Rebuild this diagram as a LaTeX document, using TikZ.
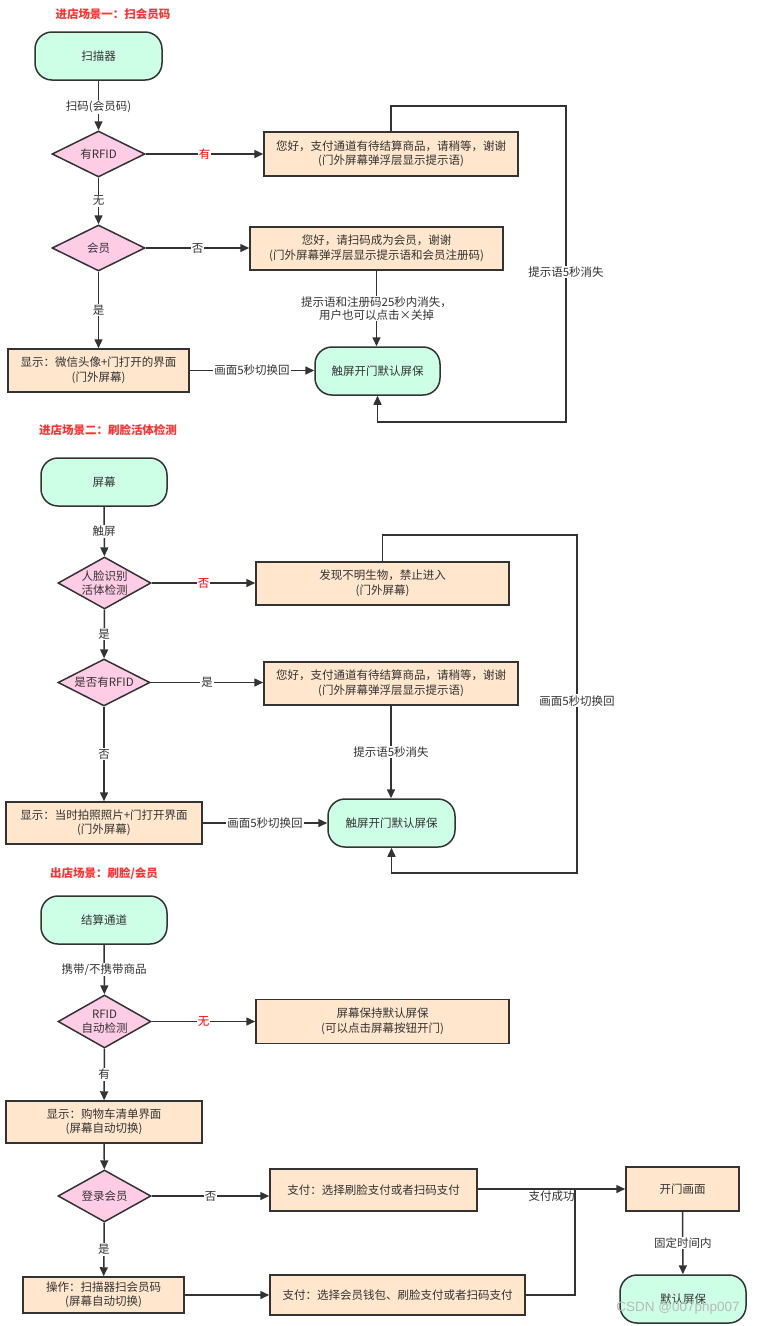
\documentclass[tikz,border=0pt]{standalone}
\usepackage{fontspec}
\setmainfont{Noto Sans CJK SC}
\newfontfamily\wmfont{Liberation Sans}
\usetikzlibrary{arrows.meta,shapes.geometric}
\definecolor{ln}{HTML}{333333}
\definecolor{termc}{HTML}{CCFFE6}
\definecolor{diac}{HTML}{FFCCE6}
\definecolor{boxc}{HTML}{FFE6CC}
\definecolor{ttlc}{HTML}{FF3333}
\begin{document}
\begin{tikzpicture}[x=1pt,y=-1pt,
 every node/.style={font=\fontsize{11.5}{14.5}\selectfont, text=ln, align=center},
 termbox/.style={draw=ln, line width=1.5pt, fill=termc, rounded corners=17pt, minimum height=48pt, inner sep=0pt},
 procbox/.style={draw=ln, line width=1.5pt, fill=boxc, inner sep=0pt},
 diam/.style={draw=ln, line width=1.5pt, fill=diac, diamond, inner sep=0pt},
 arr/.style={draw=ln, line width=1.5pt, -{Triangle[length=9pt,width=8pt]}},
 plain/.style={draw=ln, line width=1.5pt},
 lbl/.style={fill=white, inner sep=1pt},
 rlbl/.style={fill=white, inner sep=1pt, text=red},
 ttl/.style={text=ttlc, font=\fontsize{11.5}{14}\selectfont\bfseries}
]
\useasboundingbox (0,0) rectangle (759,1326);

% ---------------- Scene 1 ----------------
\node[ttl] (t1) at (113,14) {进店场景一：扫会员码};
\node[termbox, minimum width=127pt] (s1) at (98.5,56) {扫描器};
\node[diam, minimum width=93pt, minimum height=46pt] (d1) at (98.5,154) {};
\node (d1t) at (d1) {有RFID};
\node[procbox, minimum width=254pt, minimum height=44pt] (b1) at (391,154) {您好，支付通道有待结算商品，请稍等，谢谢\\(门外屏幕弹浮层显示提示语)};
\node[diam, minimum width=93pt, minimum height=46pt] (d2) at (98.5,248) {};
\node (d2t) at (d2) {会员};
\node[procbox, minimum width=253pt, minimum height=43pt] (b2) at (376.5,248.5) {您好，请扫码成为会员，谢谢\\(门外屏幕弹浮层显示提示语和会员注册码)};
\node[procbox, minimum width=181pt, minimum height=43pt] (b3) at (98.5,370.5) {显示：微信头像+门打开的界面\\(门外屏幕)};
\node[termbox, minimum width=125pt] (e1) at (377.5,371) {触屏开门默认屏保};

\draw[arr] (s1) -- node[lbl, pos=0.53] (l1) {扫码(会员码)} (d1);
\draw[arr] (d1) -- node[rlbl] (l2) {有} (d1.east -| b1.west);
\draw[arr] (d1) -- node[lbl] (l3) {无} (d2);
\draw[arr] (d2) -- node[lbl] (l4) {否} (d2.east -| b2.west);
\draw[arr] (d2) -- node[lbl] (l5) {是} (b3);
\draw[arr] (b3) -- node[lbl] (l6) {画面5秒切换回} (b3.east -| e1.west);
\draw[arr] (b2.south) -- node[lbl, inner sep=0.5pt, font=\fontsize{11.5}{13.5}\selectfont] (l7) {提示语和注册码25秒内消失，\\用户也可以点击×关掉} (b2.south |- e1.north);
\coordinate (c1a) at (b1.north |- 0,106);
\coordinate (c1b) at (566,106);
\coordinate (c1c) at (566,422);
\coordinate (c1d) at (e1.south |- 0,422);
\draw[arr] (b1.north) -- (c1a) -- (c1b) -- node[lbl, pos=0.525] (l8) {提示语5秒消失} (c1c) -- (c1d) -- (e1.south);

% ---------------- Scene 2 ----------------
\node[ttl] (t2) at (108,430) {进店场景二：刷脸活体检测};
\node[termbox, minimum width=126pt] (s2) at (104,482) {屏幕};
\node[diam, minimum width=93pt, minimum height=52pt] (d3) at (104.5,583) {};
\node (d3t) at (d3) {人脸识别\\活体检测};
\node[procbox, minimum width=253pt, minimum height=43pt] (b4) at (382.5,583.5) {发现不明生物，禁止进入\\(门外屏幕)};
\node[diam, minimum width=92pt, minimum height=47pt] (d4) at (104,682.5) {};
\node (d4t) at (d4) {是否有RFID};
\node[procbox, minimum width=254pt, minimum height=43pt] (b5) at (391,683.5) {您好，支付通道有待结算商品，请稍等，谢谢\\(门外屏幕弹浮层显示提示语)};
\node[procbox, minimum width=196pt, minimum height=42pt] (b6) at (104,823) {显示：当时拍照照片+门打开界面\\(门外屏幕)};
\node[termbox, minimum width=127pt] (e2) at (391.5,823) {触屏开门默认屏保};

\draw[arr] (s2) -- node[lbl] (l9) {触屏} (d3);
\draw[arr] (d3) -- node[rlbl] (l10) {否} (d3.east -| b4.west);
\draw[arr] (d3) -- node[lbl] (l11) {是} (d4);
\draw[arr] (d4) -- node[lbl] (l12) {是} (d4.east -| b5.west);
\draw[arr] (d4) -- node[lbl] (l13) {否} (b6);
\draw[arr] (b6) -- node[lbl] (l14) {画面5秒切换回} (b6.east -| e2.west);
\draw[arr] (b5.south) -- node[lbl] (l15) {提示语5秒消失} (b5.south |- e2.north);
\coordinate (c2a) at (b4.north |- 0,535);
\coordinate (c2b) at (577,535);
\coordinate (c2c) at (577,873);
\coordinate (c2d) at (e2.south |- 0,873);
\draw[arr] (b4.north) -- (c2a) -- (c2b) -- node[lbl, pos=0.49] (l16) {画面5秒切换回} (c2c) -- (c2d) -- (e2.south);

% ---------------- Scene 3 ----------------
\node[ttl] (t3) at (104,874) {出店场景：刷脸/会员};
\node[termbox, minimum width=126pt] (s3) at (104,920) {结算通道};
\node[diam, minimum width=93pt, minimum height=53pt] (d5) at (104.5,1021.5) {};
\node (d5t) at (d5) {RFID\\自动检测};
\node[procbox, minimum width=253pt, minimum height=44pt] (b7) at (382.5,1021.5) {屏幕保持默认屏保\\(可以点击屏幕按钮开门)};
\node[procbox, minimum width=196pt, minimum height=42pt] (b8) at (104,1122) {显示：购物车清单界面\\(屏幕自动切换)};
\node[diam, minimum width=93pt, minimum height=52pt] (d6) at (104.5,1196) {};
\node (d6t) at (d6) {登录会员};
\node[procbox, minimum width=207pt, minimum height=42pt] (b9) at (373.5,1190) {支付：选择刷脸支付或者扫码支付};
\node[procbox, minimum width=161pt, minimum height=36pt] (b10) at (103.5,1295) {操作：扫描器扫会员码\\(屏幕自动切换)};
\node[procbox, minimum width=255pt, minimum height=40pt] (b11) at (397.5,1295) {支付：选择会员钱包、刷脸支付或者扫码支付};
\node[procbox, minimum width=113pt, minimum height=44pt] (b12) at (682.5,1189) {开门画面};
\node[termbox, minimum width=126pt] (e3) at (683,1299) {默认屏保};

\draw[arr] (s3) -- node[lbl] (l17) {携带/不携带商品} (d5);
\draw[arr] (d5) -- node[rlbl] (l18) {无} (d5.east -| b7.west);
\draw[arr] (d5) -- node[lbl] (l19) {有} (b8);
\draw[arr] (b8) -- (d6);
\draw[arr] (d6) -- node[lbl] (l20) {否} (d6.east -| b9.west);
\draw[arr] (d6) -- node[lbl] (l21) {是} (b10);
\draw[arr] (b10) -- (b11);
\draw[arr] (b9.east |- b12.west) -- node[lbl, yshift=-7pt] (l22) {支付成功} (b12.west);
\coordinate (c3a) at (575,1295);
\coordinate (c3b) at (575,1189);
\draw[plain] (b11.east) -- (c3a) -- (c3b);
\draw[arr] (b12) -- node[lbl] (l23) {固定时间内} (e3);

\node[text=gray!55, font=\wmfont\fontsize{13.5}{14}\selectfont] (wm) at (678,1308) {CSDN @007php007};
\end{tikzpicture}
\end{document}
